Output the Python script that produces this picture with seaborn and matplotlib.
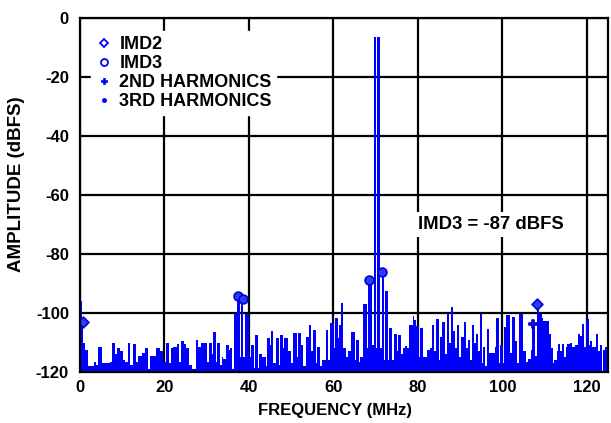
import numpy as np
import pandas as pd
import matplotlib
matplotlib.use("Agg")
import matplotlib.pyplot as plt
from matplotlib.lines import Line2D
import seaborn as sns

# ---------------- data ----------------
freq_mhz = [
    0.0, 0.4, 0.8, 1.2, 2.0, 3.2, 3.9, 4.3, 5.1, 7.1, 7.5, 8.3, 8.8, 9.5, 10.1, 10.7,
    11.4, 11.8, 12.5, 13.2, 13.8, 14.6, 15.4, 16.2, 16.6, 18.0, 18.9, 19.7, 20.4, 21.1,
    21.5, 22.1, 22.9, 23.5, 23.9, 24.6, 25.1, 25.9, 26.4, 27.5, 28.0, 28.6, 30.0, 30.6,
    31.2, 31.6, 32.2, 32.5, 33.1, 33.5, 33.9, 34.6, 35.2, 35.5, 36.1, 36.5, 37.1, 37.8,
    38.2, 38.7, 39.1, 39.9, 40.5, 41.2, 41.4, 42.1, 42.4, 43.0, 43.2, 44.0, 44.2, 45.0,
    45.2, 45.8, 46.3, 47.1, 47.35, 48.0, 48.4, 49.2, 49.9, 50.5, 51.3, 51.7, 52.3, 52.9,
    53.4, 54.2, 54.7, 55.1, 55.8, 56.2, 56.8, 57.2, 58.2, 58.8, 59.2, 60.2, 60.4, 61.0,
    61.3, 61.8, 62.3, 62.9, 63.4, 64.2, 65.0, 65.4, 66.0, 66.3, 67.1, 67.9, 68.3, 69.1,
    69.6, 70.05, 70.35, 71.0, 71.4, 72.0, 72.2, 72.8, 73.2, 73.8, 74.4, 75.0, 75.4, 75.9,
    76.4, 77.0, 77.5, 78.0, 78.8, 79.1, 79.6, 80.2, 80.5, 81.3, 82.1, 82.9, 83.3, 83.8,
    84.3, 84.9, 85.3, 85.8, 86.3, 86.8, 87.3, 87.8, 88.3, 88.8, 89.3, 89.8, 90.3, 90.8,
    91.3, 91.8, 92.3, 92.8, 93.3, 93.8, 94.3, 94.7, 95.1, 95.3, 95.9, 96.4, 96.9, 98.3,
    98.6, 99.2, 99.4, 100.1, 100.4, 100.9, 101.8, 102.2, 103.0, 103.5, 104.0, 104.8,
    105.6, 106.1, 106.7, 107.1, 107.7, 108.1, 108.7, 109.3, 109.7, 111.0, 111.4, 111.9,
    112.2, 112.9, 113.2, 113.6, 114.0, 114.6, 115.1, 115.4, 116.0, 116.4, 117.2, 118.0,
    118.4, 118.8, 119.3, 119.8, 120.4, 120.7, 121.3, 121.7, 122.2, 122.7, 123.1, 123.5,
    123.9, 124.3,
]
amp_dbfs = [
    -96, -103, -110, -112.6, -118, -116.7, -117.6, -111.6, -117, -116.5, -110, -114, -112, -113, -116, -116.5,
    -110, -117.6, -110.5, -116.5, -114.5, -113.5, -112, -119, -114.5, -112, -113, -116.5, -110, -117,
    -112, -111.5, -110.5, -116.5, -109.5, -110.5, -112, -117.6, -119, -109, -111.5, -110, -116.5, -110,
    -114, -106.5, -116.5, -110, -117.6, -115, -115.5, -111, -112.5, -112, -119, -100.5, -94, -115,
    -95, -115, -100.4, -115, -111, -118.5, -107.5, -118.5, -114, -119, -115, -118, -108.5, -111,
    -106, -117, -108.6, -117.5, -107.5, -112, -108.6, -113, -117, -106.8, -115, -106.8, -111, -118,
    -108, -104, -113, -105.8, -117, -111.5, -118, -116, -105.8, -116, -103.4, -112, -101.7, -108.5,
    -104, -96.6, -112, -115, -113, -106.5, -116, -109, -116.5, -115, -97, -112, -88.8, -111,
    -6.5, -112, -6.5, -112, -86, -116, -92.5, -116, -105, -116, -107, -113, -107.5, -114,
    -112, -111.3, -112, -104, -101, -102.4, -104.3, -115, -105.2, -115, -112.6, -112, -104, -113,
    -102, -116, -108, -103, -114, -100.5, -110, -98, -106, -112, -104, -115, -108, -103,
    -112, -109, -116, -104, -110, -107, -113, -100.4, -117, -111.6, -118, -105.5, -113.6, -111.6,
    -101.7, -117, -111, -117, -104.8, -100.6, -113.6, -101.3, -109.5, -117, -100.4, -113,
    -116.6, -115.5, -112.6, -103.4, -114.5, -97, -100.4, -101.7, -102.7, -107.2, -112, -117,
    -116, -113, -110.5, -113, -110.5, -114.8, -111.5, -110.6, -110, -111.5, -111, -107,
    -107.8, -103.8, -111.5, -102, -111, -109.5, -111.5, -111.6, -107, -113, -111, -119.5,
    -112.6, -111.5,
]

# markers on the spectrum
imd2_f = [0.6, 108.3]
imd2_a = [-103.0, -97.0]
imd3_f = [68.5, 71.5]
imd3_a = [-88.8, -86.0]
h2_f = [107.3]
h2_a = [-103.7]
h3_f = [37.4, 38.5]
h3_a = [-94.3, -95.2]

legend_labels = ["IMD2", "IMD3", "2ND HARMONICS", "3RD HARMONICS"]
x_ticks = [0, 20, 40, 60, 80, 100, 120]
y_ticks = [-120, -100, -80, -60, -40, -20, 0]
annotation = "IMD3 = -87 dBFS"
x_max = 125.0
floor = -120.0

# ---------------- style ----------------
sns.set_style("white")
plt.rcParams["font.family"] = ["Liberation Sans", "DejaVu Sans"]
plt.rcParams["font.weight"] = "bold"
plt.rcParams["axes.unicode_minus"] = False
plt.rcParams["text.color"] = "black"
plt.rcParams["axes.labelcolor"] = "black"
plt.rcParams["xtick.color"] = "black"
plt.rcParams["ytick.color"] = "black"

BLUE = "#0000FF"

fig = plt.figure(figsize=(6.11, 4.23), dpi=100)
ax = fig.add_axes([80 / 611, 51 / 423, 528 / 611, 354 / 423])

df = pd.DataFrame({"freq": freq_mhz, "amp": amp_dbfs})
edges = np.append(df["freq"].values, x_max)
widths = np.diff(edges)

ax.bar(df["freq"], df["amp"] - floor, bottom=floor, width=widths, align="edge",
       color=BLUE, linewidth=0, zorder=2)

mk = dict(color="#2a3cff", edgecolor="#0000d0", linewidth=1.2, legend=False, zorder=4, ax=ax)
sns.scatterplot(x=imd2_f, y=imd2_a, marker="D", s=30, **mk)
sns.scatterplot(x=imd3_f, y=imd3_a, marker="o", s=40, **mk)
sns.scatterplot(x=h2_f, y=h2_a, marker="P", s=30, **mk)
sns.scatterplot(x=h3_f, y=h3_a, marker="o", s=40, **mk)

ax.set_xlim(0, x_max)
ax.set_ylim(floor, 0)
ax.set_xticks(x_ticks)
ax.set_yticks(y_ticks)
ax.set_xticklabels([str(v) for v in x_ticks])
ax.set_yticklabels([str(v) for v in y_ticks])
ax.tick_params(axis="both", length=0, labelsize=12, colors="black")
ax.tick_params(axis="x", pad=6)
ax.tick_params(axis="y", pad=8)
for lab in ax.get_xticklabels() + ax.get_yticklabels():
    lab.set_fontweight("bold")
    lab.set_color("black")

ax.grid(True, color="black", linewidth=1.6)
ax.set_axisbelow(True)
for sp in ax.spines.values():
    sp.set_visible(True)
    sp.set_color("black")
    sp.set_linewidth(1.6)
    sp.set_zorder(5)

ax.set_xlabel("FREQUENCY (MHz)", fontsize=12, fontweight="bold", color="black")
ax.set_ylabel("AMPLITUDE (dBFS)", fontsize=13.5, fontweight="bold", color="black")
ax.xaxis.set_label_coords(0.483, -0.088)
ax.yaxis.set_label_coords(-0.104, 0.53)

ax.text(80.0, -70.0, annotation, fontsize=13.3, fontweight="bold", ha="left", va="center",
        color="black", bbox=dict(facecolor="white", edgecolor="none", pad=3), zorder=6)

handles = [
    Line2D([], [], linestyle="none", marker="D", markersize=4.5, markerfacecolor="white",
           markeredgecolor=BLUE, markeredgewidth=1.3),
    Line2D([], [], linestyle="none", marker="o", markersize=5, markerfacecolor="white",
           markeredgecolor=BLUE, markeredgewidth=1.3),
    Line2D([], [], linestyle="none", marker="P", markersize=5, markerfacecolor=BLUE,
           markeredgecolor=BLUE, markeredgewidth=0.5),
    Line2D([], [], linestyle="none", marker="o", markersize=2.5, markerfacecolor=BLUE,
           markeredgecolor=BLUE),
]
leg = ax.legend(handles, legend_labels, loc="upper left", bbox_to_anchor=(0.02, 0.962),
                frameon=True, facecolor="white", edgecolor="white", framealpha=1,
                prop={"weight": "bold", "size": 13}, handlelength=1.0, handletextpad=0.35,
                labelspacing=0.12, borderpad=0.25, borderaxespad=0, fancybox=False)
leg.set_zorder(6)
for t in leg.get_texts():
    t.set_color("black")

fig.savefig("out.png", dpi=100)
